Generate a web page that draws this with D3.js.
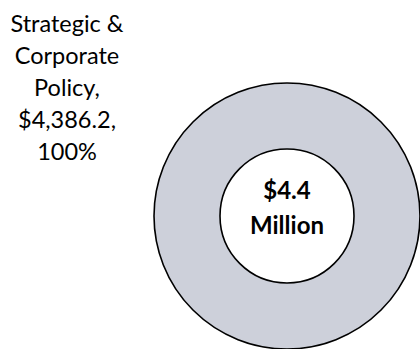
<!DOCTYPE html>
<html>
<head>
<meta charset="utf-8">
<script src="https://cdn.jsdelivr.net/npm/d3@7/dist/d3.min.js"></script>
<style>
  html, body { margin: 0; padding: 0; background: #ffffff; }
  svg { display: block; }
  text { font-family: Lato, "Open Sans", sans-serif; fill: #000; }
</style>
</head>
<body>
<div id="chart"></div>
<script>
// Budget by division ($ thousands)
const categories = ["Strategic & Corporate Policy"];
const values = [4386.2];
const colors = ["#cdd0da"];

const width = 420, height = 349;
const cx = 287, cy = 216;
const outerR = 133, innerR = 67;

const svg = d3.select("#chart").append("svg")
  .attr("width", width)
  .attr("height", height);

const total = d3.sum(values);
const pie = d3.pie().sort(null).value(d => d.value);
const arc = d3.arc().innerRadius(innerR).outerRadius(outerR);

const data = categories.map((c, i) => ({ name: c, value: values[i], color: colors[i] }));

const g = svg.append("g").attr("transform", `translate(${cx},${cy})`);

g.selectAll("path.slice")
  .data(pie(data))
  .join("path")
  .attr("class", "slice")
  .attr("d", arc)
  .attr("fill", d => d.data.color)
  .attr("stroke", "#000")
  .attr("stroke-width", 1.6);

// Data label: name, value, percent
const fmtVal = d3.format("$,.1f");
const fmtPct = d3.format(".0%");
data.forEach((d, i) => {
  const words = d.name.split(" ");
  const lines = [words[0] + " " + words[1], words[2], words[3] + ",", fmtVal(d.value) + ",", fmtPct(d.value / total)];
  const label = svg.append("text")
    .attr("x", 67)
    .attr("y", 32)
    .attr("text-anchor", "middle")
    .style("font-size", "23.5px");
  label.selectAll("tspan")
    .data(lines)
    .join("tspan")
    .attr("x", 67)
    .attr("dy", (l, j) => j === 0 ? 0 : 32)
    .text(l => l);
});

// Centre total
const centre = svg.append("text")
  .attr("text-anchor", "middle")
  .style("font-size", "24px")
  .style("font-weight", "bold");
centre.append("tspan").attr("x", cx).attr("y", 199).text("$" + (total / 1000).toFixed(1));
centre.append("tspan").attr("x", cx).attr("y", 234).text("Million");
</script>
</body>
</html>
